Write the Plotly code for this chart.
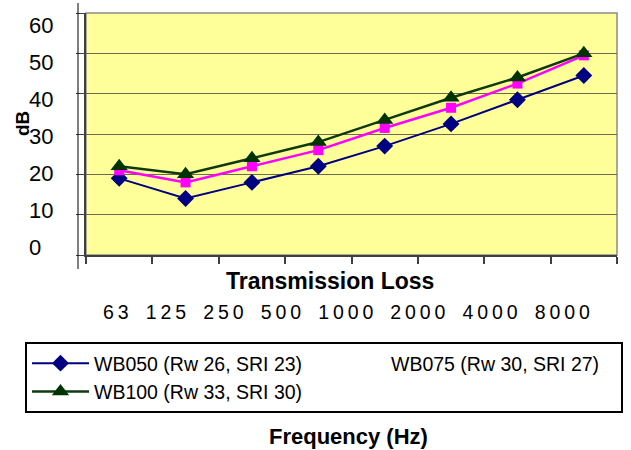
import plotly.graph_objects as go

# ---- data ----
freq_labels = ["63", "125", "250", "500", "1000", "2000", "4000", "8000"]
wb050 = [19, 14, 18, 22, 27, 32.5, 38.5, 44.5]
wb075 = [21, 18, 22, 26, 31.5, 36.5, 42.5, 49.5]
wb100 = [22, 20, 24, 28, 33.5, 39, 44, 50]
y_ticks = [0, 10, 20, 30, 40, 50, 60]

name050 = "WB050 (Rw 26, SRI 23)"
name075 = "WB075 (Rw 30, SRI 27)"
name100 = "WB100 (Rw 33, SRI 30)"

W, H = 631, 450


def px(xp):
    return xp / W


def py(yp):
    return 1 - yp / H


FONT = "Liberation Sans, Arial, sans-serif"

fig = go.Figure()
fig.add_trace(go.Scatter(
    x=freq_labels, y=wb050, name=name050, mode="lines+markers",
    line=dict(color="#000080", width=2),
    marker=dict(symbol="diamond", size=13, color="#000080"),
))
# legend-only entry for WB075 (reference shows no symbol for it)
fig.add_trace(go.Scatter(
    x=[None], y=[None], name=name075, mode="lines", yaxis="y2",
    line=dict(color="rgba(0,0,0,0)", width=2), hoverinfo="skip",
))
fig.add_trace(go.Scatter(
    x=freq_labels, y=wb075, name=name075, mode="lines+markers",
    line=dict(color="#FF00FF", width=2.5),
    marker=dict(symbol="square", size=10, color="#FF00FF"),
    showlegend=False,
))
fig.add_trace(go.Scatter(
    x=freq_labels, y=wb100, name=name100, mode="lines+markers",
    line=dict(color="#0f3a0f", width=2.5),
    marker=dict(symbol="triangle-up", size=15, color="#003300"),
))

fig.update_layout(
    width=W, height=H,
    margin=dict(l=0, r=0, t=0, b=0, pad=0, autoexpand=False),
    paper_bgcolor="white",
    plot_bgcolor="#FFFF99",
    font=dict(family=FONT, color="black"),
    showlegend=True,
    xaxis=dict(
        type="category", domain=[px(86), px(617)], range=[-0.5, 7.5],
        showticklabels=False, showgrid=False, zeroline=False,
        ticks="outside", tickson="boundaries", ticklen=7, tickwidth=1.5,
        tickcolor="#404040",
        showline=True, linecolor="#404040", linewidth=2,
        anchor="y",
    ),
    yaxis=dict(
        domain=[py(255), py(13)], range=[0, 60], tickvals=y_ticks,
        showticklabels=False, showgrid=True, gridcolor="#6b6b50", gridwidth=1,
        zeroline=False, ticks="outside", ticklen=8, tickcolor="#404040",
        showline=True, linecolor="#404040", linewidth=2,
    ),
    yaxis2=dict(
        overlaying="y", anchor="free", position=px(22), side="right",
        range=[-2.16, 63.24], tickvals=y_ticks,
        ticktext=[str(v) for v in y_ticks],
        showgrid=False, zeroline=False, showline=False, ticks="",
        tickfont=dict(size=22, family=FONT, color="black"),
        ticklabelstandoff=6,
    ),
    legend=dict(
        orientation="h", x=px(25), y=py(342), xanchor="left", yanchor="top",
        bordercolor="black", borderwidth=2, bgcolor="white",
        font=dict(size=19.5, family=FONT, color="black"),
        entrywidth=225, entrywidthmode="pixels", itemwidth=57,
        tracegroupgap=0,
    ),
)

# plot area border (top/right lighter gray)
fig.add_shape(type="rect", xref="x domain", yref="y domain", x0=0, x1=1, y0=0, y1=1,
              line=dict(color="#8c8c8c", width=1.5), layer="below")
# extra left rule like the original
fig.add_shape(type="line", xref="paper", yref="paper", x0=px(78), x1=px(78),
              y0=py(3), y1=py(269), line=dict(color="black", width=1))

thin = "\u2009"
freq_text = (thin + " " + thin + thin).join(thin.join(list(l)) for l in freq_labels)

ann = dict(xref="paper", yref="paper", showarrow=False, xanchor="center", yanchor="middle")
fig.add_annotation(text="<b>dB</b>", x=px(22), y=py(124), textangle=-90,
                   font=dict(size=19, family=FONT), **ann)
fig.add_annotation(text="<b>Transmission Loss</b>", x=px(330), y=py(281),
                   font=dict(size=23, family=FONT), **ann)
fig.add_annotation(text=freq_text, x=px(346.5), y=py(312),
                   font=dict(size=19.5, family=FONT), **ann)
fig.add_annotation(text="<b>Frequency (Hz)</b>", x=px(348.5), y=py(436),
                   font=dict(size=22, family=FONT), **ann)

fig.write_html("out.html", config={"displayModeBar": False},
               post_script="document.body.style.margin='0';")
